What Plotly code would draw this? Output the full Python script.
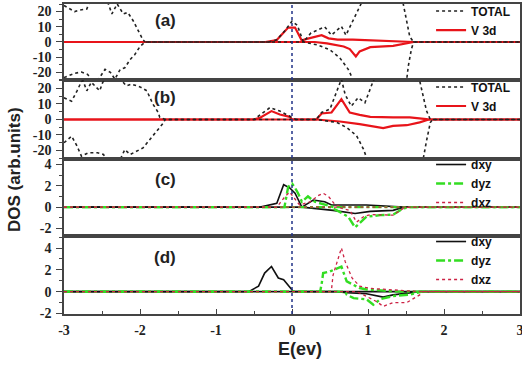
import plotly.graph_objects as go
from plotly.subplots import make_subplots

# ---------------- data ----------------
# Panel (a)
E_TOT_A_UP = [-3.0, -2.86, -2.79, -2.70, -2.66, -2.55, -2.43, -2.37, -2.30, -2.22, -2.16, -2.09, -1.96, -1.93,
              -0.30, -0.20, -0.10, -0.04, 0.0, 0.07, 0.15, 0.25, 0.43, 0.52, 0.65, 0.71, 0.80, 0.89, 1.1, 1.3,
              1.46, 1.55, 1.60, 3.0]
TOT_A_UP = [24, 20, 21, 21.7, 27, 30, 27, 18.5, 25, 18.5, 19.4, 14, 1.3, 0,
            0, 1.5, 7, 11, 13.7, 11, 0, 6, 9.9, 4.5, 10.3, 4.5, 15, 26, 45, 40,
            26, 3.4, 0, 0]
E_TOT_A_DN = [-3.0, -2.86, -2.77, -2.69, -2.59, -2.46, -2.39, -2.33, -2.26, -2.20, -2.13, -2.07, -2.0, -1.93,
              0.15, 0.34, 0.50, 0.63, 0.74, 0.79, 0.90, 1.2, 1.45, 1.51, 1.53, 1.57, 1.60, 3.0]
TOT_A_DN = [-23.4, -20.6, -19.8, -21.3, -28, -18, -20, -24.5, -18, -17, -11.6, -8.4, -3, 0,
            0, -2, -5.2, -10.5, -18, -24.5, -35, -40, -30, -24.5, -16, -5, 0, 0]
E_V3D_A_UP = [-3.0, -0.35, -0.20, -0.05, 0.04, 0.13, 0.17, 0.39, 0.48, 0.60, 0.80, 1.23, 1.40, 1.60, 3.0]
V3D_A_UP = [0, 0, 1.3, 9.5, 9.5, 0.8, 1.7, 4.5, 2.4, 1.5, 1.5, 0.9, 0.3, 0, 0]
E_V3D_A_DN = [-3.0, 0.30, 0.46, 0.68, 0.76, 0.84, 0.89, 1.03, 1.33, 1.51, 1.60, 3.0]
V3D_A_DN = [0, 0, -0.9, -3, -4.7, -9.5, -6.2, -3.4, -2.6, -0.9, 0, 0]

# Panel (b)
E_TOT_B_UP = [-3.0, -2.97, -2.90, -2.83, -2.77, -2.75, -2.70, -2.64, -2.53, -2.49, -2.40, -2.30, -2.24, -2.18,
              -2.11, -2.0, -1.91, -1.83, -1.76, -1.74, -1.67, -0.50, -0.29, -0.16, 0.0, 0.05, 0.32, 0.39, 0.50,
              0.65, 0.70, 0.78, 0.87, 0.96, 1.07, 1.3, 1.5, 1.68, 1.73, 1.77, 1.82, 3.0]
TOT_B_UP = [14, 13.3, 11.8, 18.3, 24.5, 25, 18.5, 24, 18.5, 24, 28, 30, 25, 21.7,
            22.8, 21, 18.5, 9.9, 4.5, 1.3, 0, 0, 7.7, 5.4, 1.3, 0, 0, 4.5, 6.7,
            26, 16, 8.6, 14, 10.8, 25, 40, 40, 25, 14.2, 5.6, 0, 0]
E_TOT_B_DN = [-3.0, -2.90, -2.83, -2.77, -2.68, -2.56, -2.48, -2.40, -2.30, -2.20, -2.13, -2.09, -1.96, -1.87,
              -1.78, -1.69, -1.67, 0.32, 0.59, 0.72, 0.85, 0.94, 0.98, 1.1, 1.5, 1.73, 1.77, 1.82, 1.85, 3.0]
TOT_B_DN = [-15, -10.8, -17, -23.7, -21.5, -21.5, -22.6, -30, -30, -19.4, -22.6, -21.5, -18.3, -12.9,
            -7.5, -2.1, 0, 0, -1.9, -5.2, -10.5, -19.1, -24.5, -35, -35, -24.5, -13.8, -2, 0, 0]
E_V3D_B_UP = [-3.0, -0.50, -0.42, -0.27, -0.16, -0.03, 0.0, 0.32, 0.39, 0.52, 0.65, 0.76, 0.89, 1.03, 1.33,
              1.55, 1.77, 1.80, 3.0]
V3D_B_UP = [0, 0, 1.1, 5.4, 3.2, 1.7, 0, 0, 3.9, 4.5, 13.1, 4.5, 3, 1.7, 1.3, 1.3, 0.2, 0, 0]
E_V3D_B_DN = [-3.0, 0.32, 0.63, 0.89, 1.20, 1.33, 1.51, 1.68, 1.80, 3.0]
V3D_B_DN = [0, 0, -1.3, -3, -5.6, -4.1, -3.7, -1.9, 0, 0]

# Panel (c)
E_DXY_C_UP = [-3.0, -0.42, -0.20, -0.11, -0.03, 0.04, 0.13, 0.28, 0.43, 0.52, 0.98, 1.30, 1.47, 3.0]
DXY_C_UP = [0, 0, 0.35, 2.1, 1.8, 1.3, 0, 0.66, 0.5, 0.2, 0.2, 0.1, 0, 0]
E_DXY_C_DN = [-3.0, 0.13, 0.54, 0.83, 1.03, 1.33, 1.47, 3.0]
DXY_C_DN = [0, 0, -0.3, -0.6, -0.4, -0.3, 0, 0]
E_DYZ_C_UP = [-3.0, -0.10, -0.05, 0.0, 0.04, 0.08, 0.13, 0.21, 0.30, 0.46, 0.55, 3.0]
DYZ_C_UP = [0, 0, 1.9, 2.2, 1.8, 1.3, 0.5, 1.0, 0.5, 0.2, 0, 0]
E_DYZ_C_DN = [-3.0, 0.50, 0.59, 0.74, 0.83, 0.89, 0.98, 1.16, 1.33, 1.47, 1.55, 3.0]
DYZ_C_DN = [0, 0, -0.3, -0.9, -1.9, -1.5, -0.9, -0.75, -0.7, -0.1, 0, 0]
E_DXZ_C_UP = [-3.0, -0.20, -0.09, -0.03, 0.10, 0.24, 0.35, 0.41, 0.48, 0.57, 0.70, 3.0]
DXZ_C_UP = [0, 0, 1.0, 1.4, 0.2, 0.5, 1.1, 1.3, 1.0, 0.2, 0, 0]
E_DXZ_C_DN = [-3.0, 0.60, 0.76, 0.85, 0.94, 1.03, 1.33, 1.47, 1.55, 3.0]
DXZ_C_DN = [0, 0, -0.3, -1.4, -0.9, -0.7, -0.75, -0.1, 0, 0]

# Panel (d)
E_DXY_D_UP = [-3.0, -0.57, -0.44, -0.36, -0.27, -0.18, -0.11, 0.0, 0.02, 3.0]
DXY_D_UP = [0, 0, 0.5, 1.7, 2.3, 1.25, 1.1, 0.2, 0, 0]
E_DXY_D_DN = [-3.0, 0.59, 0.72, 0.98, 1.20, 1.33, 1.68, 3.0]
DXY_D_DN = [0, 0, -0.1, -0.2, -0.5, -0.3, 0, 0]
E_DYZ_D_UP = [-3.0, 0.37, 0.39, 0.41, 0.50, 0.61, 0.65, 0.72, 0.81, 0.89, 0.98, 1.20, 1.40, 3.0]
DYZ_D_UP = [0, 0, 0.7, 1.7, 1.85, 2.15, 2.3, 0.94, 0.6, 0.33, 0.2, 0.1, 0, 0]
E_DYZ_D_DN = [-3.0, 0.70, 0.72, 0.81, 0.98, 1.07, 1.16, 1.33, 1.55, 1.71, 3.0]
DYZ_D_DN = [0, 0, -0.27, -0.6, -0.7, -1.2, -0.7, -0.4, -0.27, 0, 0]
E_DXZ_D_UP = [-3.0, 0.50, 0.52, 0.54, 0.65, 0.70, 0.79, 0.89, 1.03, 1.25, 1.68, 3.0]
DXZ_D_UP = [0, 0, 0.2, 1.5, 4.0, 2.75, 1.25, 0.5, 0.3, 0.2, 0, 0]
E_DXZ_D_DN = [-3.0, 0.85, 0.94, 1.11, 1.20, 1.33, 1.51, 1.68, 1.72, 3.0]
DXZ_D_DN = [0, 0, -0.3, -0.9, -1.35, -1.0, -1.0, -0.3, 0, 0]

PANEL_LABELS = ["(a)", "(b)", "(c)", "(d)"]
X_TICKS = [-3, -2, -1, 0, 1, 2, 3]
Y_TICKS_AB = [-20, -10, 0, 10, 20]
Y_TICKS_CD = [-2, 0, 2, 4]

# ---------------- figure ----------------
fig = make_subplots(rows=4, cols=1, shared_xaxes=True, vertical_spacing=0)

TOT_STYLE = dict(color="#222222", width=1.6, dash="dot")
V3D_STYLE = dict(color="#e8141a", width=2.2)
DXY_STYLE = dict(color="#111111", width=1.6)
DYZ_STYLE = dict(color="#33dd22", width=2.4, dash="dashdot")
DXZ_STYLE = dict(color="#cc2244", width=1.3, dash="dot")


def add(row, x, y, name, style, legend, show):
    fig.add_trace(go.Scatter(x=x, y=y, mode="lines", name=name, line=style,
                             legendgroup=f"{legend}{name}", showlegend=show, legend=legend),
                  row=row, col=1)


add(1, E_V3D_A_UP, V3D_A_UP, "V 3d", V3D_STYLE, "legend", False)
add(1, E_V3D_A_DN, V3D_A_DN, "V 3d", V3D_STYLE, "legend", False)
add(1, E_TOT_A_UP, TOT_A_UP, "TOTAL", TOT_STYLE, "legend", True)
add(1, E_TOT_A_DN, TOT_A_DN, "TOTAL", TOT_STYLE, "legend", False)
fig.add_trace(go.Scatter(x=[None], y=[None], mode="lines", name="V 3d", line=V3D_STYLE,
                         legend="legend"), row=1, col=1)

add(2, E_V3D_B_UP, V3D_B_UP, "V 3d", V3D_STYLE, "legend2", False)
add(2, E_V3D_B_DN, V3D_B_DN, "V 3d", V3D_STYLE, "legend2", False)
add(2, E_TOT_B_UP, TOT_B_UP, "TOTAL", TOT_STYLE, "legend2", True)
add(2, E_TOT_B_DN, TOT_B_DN, "TOTAL", TOT_STYLE, "legend2", False)
fig.add_trace(go.Scatter(x=[None], y=[None], mode="lines", name="V 3d", line=V3D_STYLE,
                         legend="legend2"), row=2, col=1)

for row, lg, data in [
    (3, "legend3", [(E_DXY_C_UP, DXY_C_UP, E_DXY_C_DN, DXY_C_DN, "dxy", DXY_STYLE),
                    (E_DYZ_C_UP, DYZ_C_UP, E_DYZ_C_DN, DYZ_C_DN, "dyz", DYZ_STYLE),
                    (E_DXZ_C_UP, DXZ_C_UP, E_DXZ_C_DN, DXZ_C_DN, "dxz", DXZ_STYLE)]),
    (4, "legend4", [(E_DXY_D_UP, DXY_D_UP, E_DXY_D_DN, DXY_D_DN, "dxy", DXY_STYLE),
                    (E_DYZ_D_UP, DYZ_D_UP, E_DYZ_D_DN, DYZ_D_DN, "dyz", DYZ_STYLE),
                    (E_DXZ_D_UP, DXZ_D_UP, E_DXZ_D_DN, DXZ_D_DN, "dxz", DXZ_STYLE)]),
]:
    for xu, yu, xd, yd, nm, st in data:
        add(row, xu, yu, nm, st, lg, True)
        add(row, xd, yd, nm, st, lg, False)

domains = [[0.755, 1.0], [0.5, 0.755], [0.2516, 0.5], [0.0, 0.2516]]
yranges = [[-25, 25], [-25.5, 25.5], [-2.7, 4.5], [-2.05, 5.1]]
label_y = [14, 14, 2.6, 3.1]

TICKFONT = dict(family="Liberation Serif", size=14, color="#222222")
FRAME = "#444444"


def bold(vals):
    return [f"<b>{v}</b>" for v in vals]


for i in range(4):
    yk = "yaxis" if i == 0 else f"yaxis{i + 1}"
    xk = "xaxis" if i == 0 else f"xaxis{i + 1}"
    ab = i < 2
    yt = Y_TICKS_AB if ab else Y_TICKS_CD
    fig.layout[yk].update(
        domain=domains[i], range=yranges[i], tickvals=yt, ticktext=bold(yt),
        ticks="outside", ticklen=6, tickwidth=1.3, tickcolor=FRAME,
        minor=dict(ticks="outside", ticklen=3, dtick=5 if ab else 1, tickcolor=FRAME),
        showline=True, linecolor=FRAME, linewidth=1.6, mirror=True, automargin=False,
        showgrid=False, zeroline=False, tickfont=TICKFONT, ticklabelstandoff=2)
    fig.layout[xk].update(
        range=[-3, 3], showline=True, linecolor=FRAME, linewidth=1.6, mirror=True, automargin=False,
        showgrid=False, zeroline=False, showticklabels=(i == 3))
    fig.add_annotation(x=-1.67, y=label_y[i], xref=f"x{i + 1}" if i else "x",
                       yref=f"y{i + 1}" if i else "y", text=f"<b>{PANEL_LABELS[i]}</b>",
                       showarrow=False, font=dict(family="Liberation Sans", size=17, color="#222222"))

fig.layout.xaxis4.update(tickvals=X_TICKS, ticktext=bold(X_TICKS), ticks="inside", ticklen=5, tickwidth=1.3,
                         tickcolor=FRAME, minor=dict(ticks="inside", ticklen=3, dtick=0.5, tickcolor=FRAME),
                         tickfont=TICKFONT, ticklabelstandoff=2, ticklabeloverflow="allow")

# Fermi level
fig.add_shape(type="line", xref="x4", yref="paper", x0=0, x1=0, y0=0, y1=1,
              line=dict(color="#223388", width=1.5, dash="dot"))

LEG = dict(xanchor="left", x=0.805, yanchor="top", bgcolor="rgba(0,0,0,0)", borderwidth=0,
           font=dict(family="Liberation Sans", size=12, color="#111111", weight="bold"),
           itemwidth=30, tracegroupgap=0, traceorder="normal")
fig.update_layout(
    legend=dict(LEG, y=1.024),
    legend2=dict(LEG, y=0.779),
    legend3=dict(LEG, y=0.529),
    legend4=dict(LEG, y=0.2806),
)

fig.add_annotation(xref="paper", yref="paper", x=-0.107, y=0.465, xanchor="center", yanchor="middle",
                   text="<b>DOS (arb.units)</b>", textangle=-90, showarrow=False,
                   font=dict(family="Liberation Sans", size=17, color="#222222"))
fig.add_annotation(xref="paper", yref="paper", x=0.517, y=-0.112, xanchor="center", yanchor="middle",
                   text="<b>E(ev)</b>", showarrow=False,
                   font=dict(family="Liberation Sans", size=18, color="#222222"))

fig.update_layout(width=522, height=368, margin=dict(l=64, r=2, t=4, b=54, autoexpand=False),
                  paper_bgcolor="white", plot_bgcolor="white", showlegend=True)

fig.write_html("out.html", config={"displayModeBar": False},
               post_script="document.body.style.margin='0';")
